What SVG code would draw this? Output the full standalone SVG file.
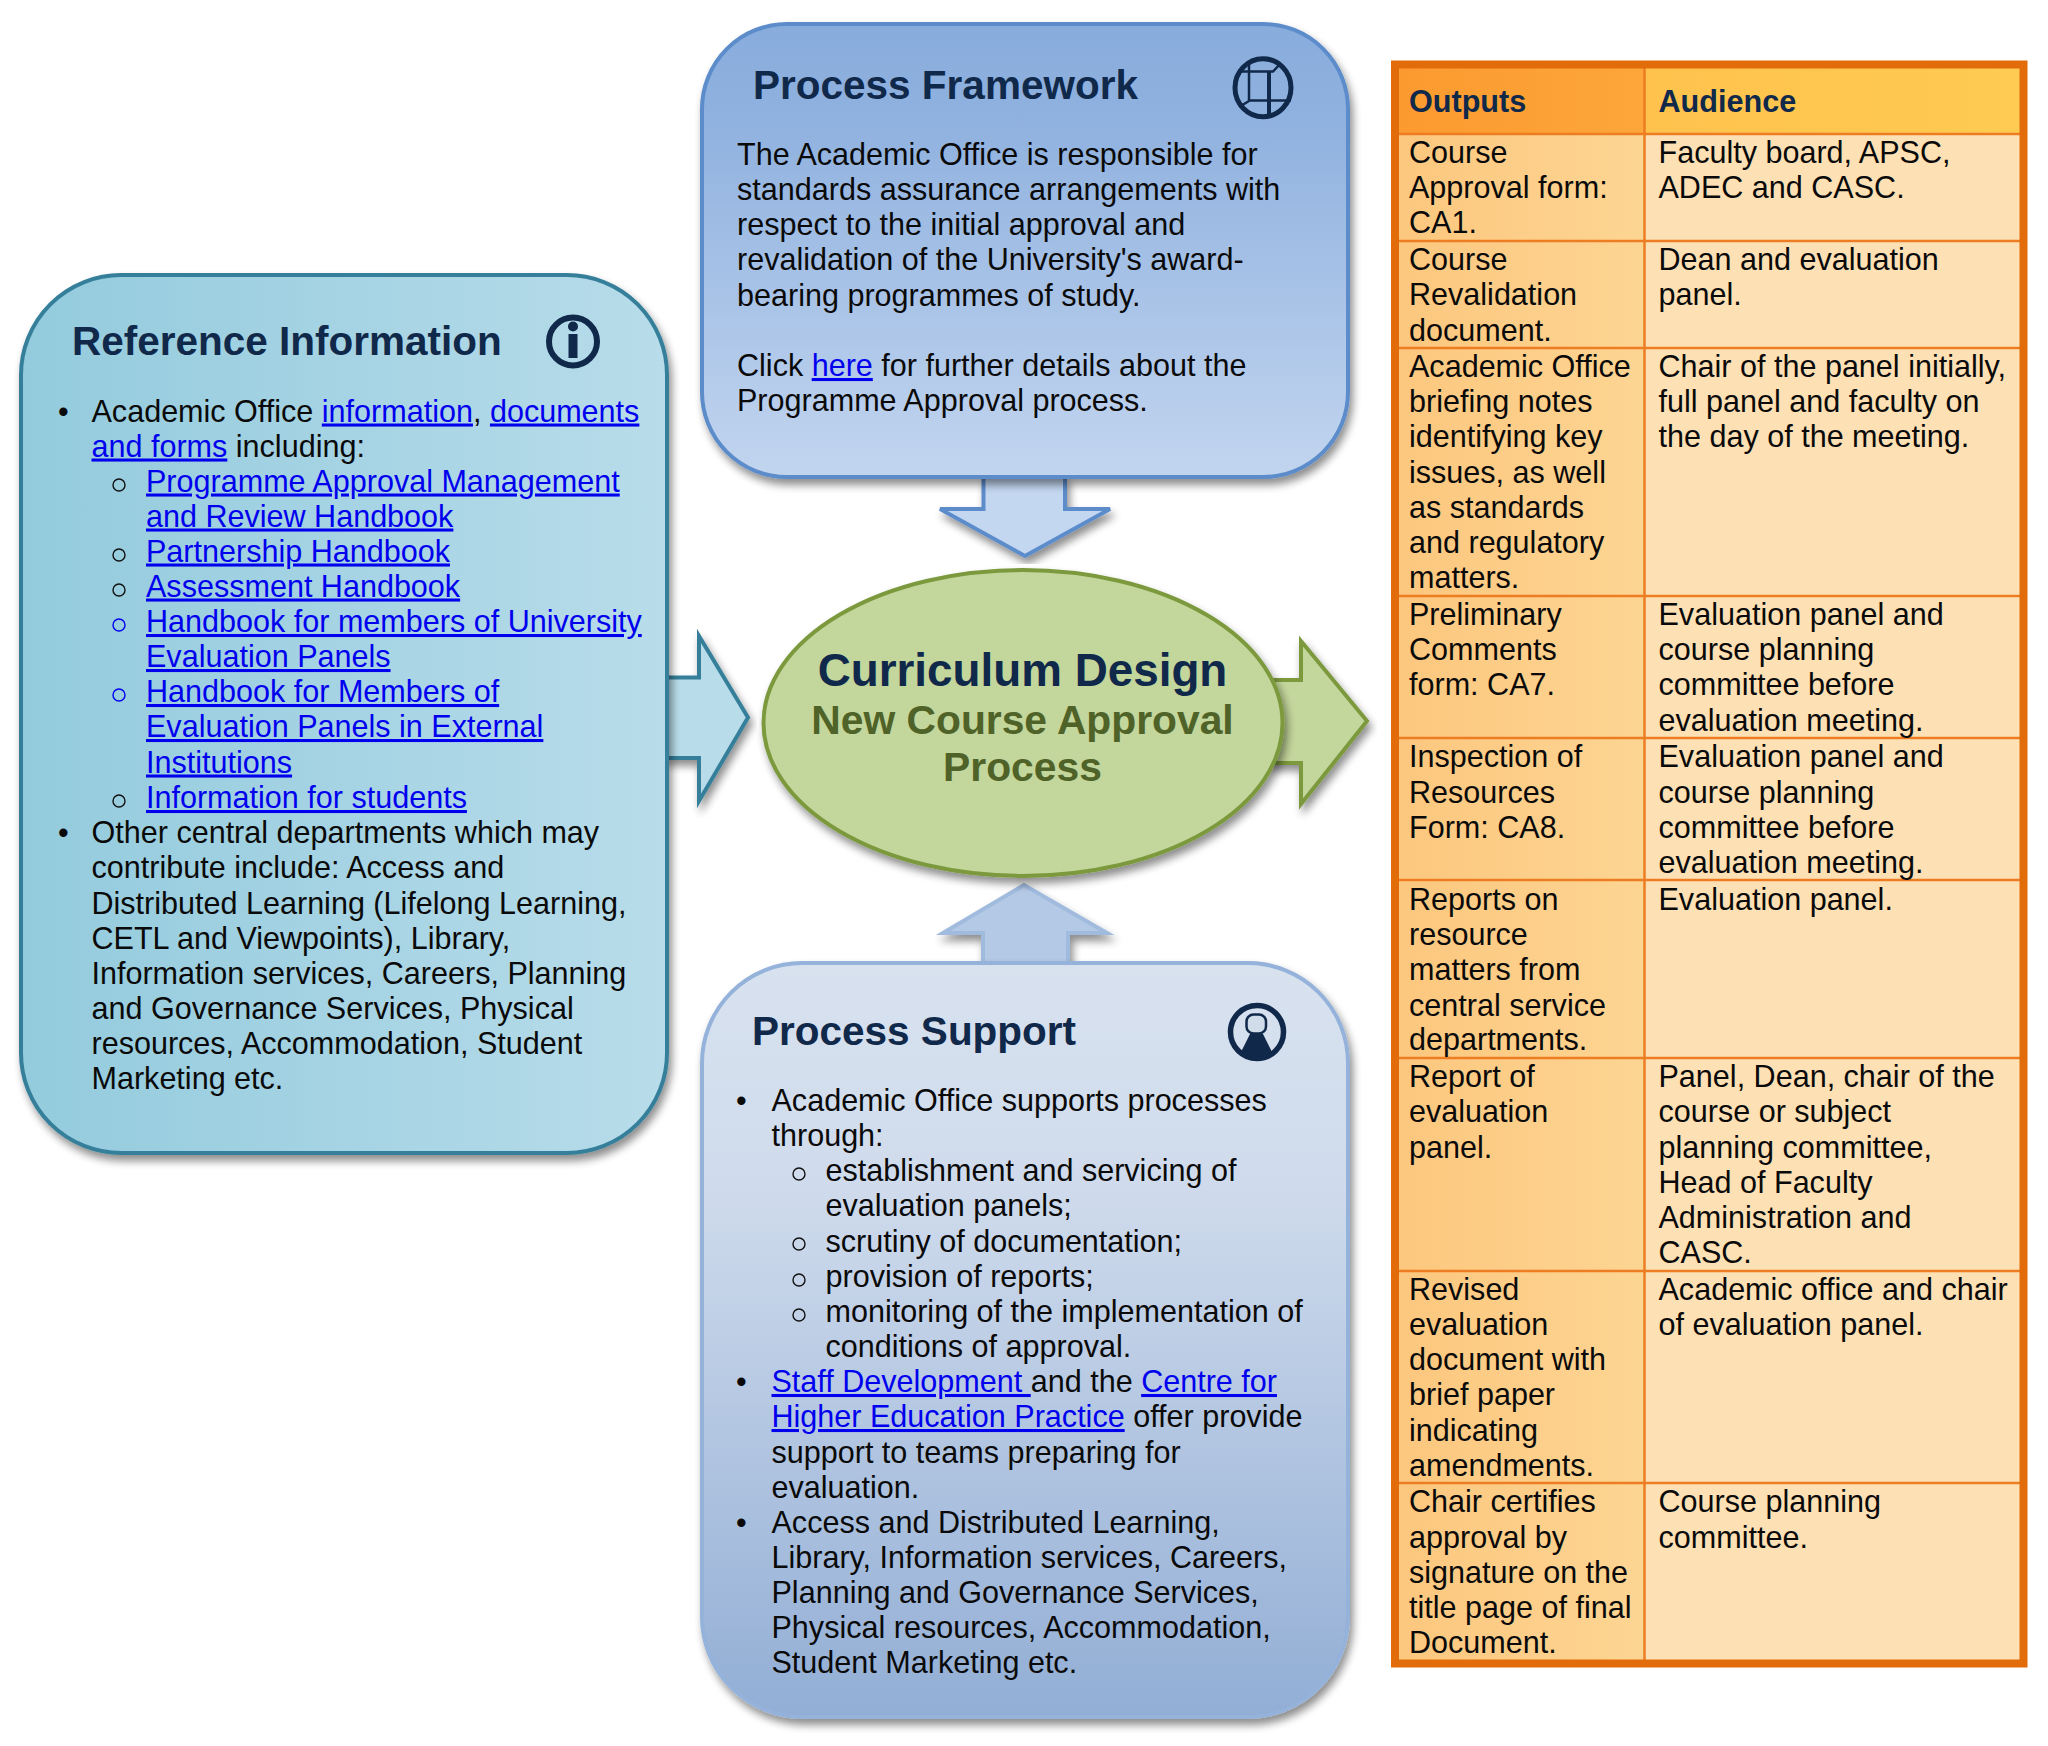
<svg xmlns="http://www.w3.org/2000/svg" width="2048" height="1746" viewBox="0 0 2048 1746">
<style>
text{font-family:"Liberation Sans",Arial,sans-serif;font-size:30.55px;fill:#0a0a0a}
.t{font-weight:700;font-size:40.5px;fill:#10294a}
.l{fill:#0000ee;text-decoration:underline}
.h{font-weight:700;font-size:30.6px;fill:#10294a}
.sh{filter:url(#ds)}
.ic{fill:none;stroke:#10294a}
.ln{stroke:#ed7d22;stroke-width:2.5}
.b{fill:none;stroke:#111;stroke-width:1.4}
</style>
<defs>
<filter id="ds" x="-10%" y="-10%" width="120%" height="120%"><feGaussianBlur in="SourceAlpha" stdDeviation="4"/><feOffset dx="3" dy="6"/><feComponentTransfer><feFuncA type="linear" slope="0.45"/></feComponentTransfer><feMerge><feMergeNode/><feMergeNode in="SourceGraphic"/></feMerge></filter>
<linearGradient id="gl" x1="0" x2="1" y1="0" y2="0"><stop offset="0" stop-color="#93cbdd"/><stop offset="1" stop-color="#b8dcea"/></linearGradient>
<linearGradient id="gf" x1="0" x2="0" y1="0" y2="1"><stop offset="0" stop-color="#88acdc"/><stop offset="0.2" stop-color="#8fb1df"/><stop offset="1" stop-color="#c2d5ef"/></linearGradient>
<linearGradient id="gs" x1="0" x2="0" y1="0" y2="1"><stop offset="0" stop-color="#d8e2ef"/><stop offset="0.3" stop-color="#cfdbec"/><stop offset="1" stop-color="#92aed5"/></linearGradient>
<linearGradient id="gth1" x1="0" x2="1" y1="0" y2="0"><stop offset="0" stop-color="#fb9a2f"/><stop offset="1" stop-color="#fda63a"/></linearGradient>
<linearGradient id="gth2" x1="0" x2="1" y1="0" y2="0"><stop offset="0" stop-color="#fec24d"/><stop offset="1" stop-color="#ffcb52"/></linearGradient>
<linearGradient id="gt1" x1="0" x2="1" y1="0" y2="0"><stop offset="0" stop-color="#fcc77e"/><stop offset="1" stop-color="#fdd593"/></linearGradient>
</defs>

<g id="connectors">
<path class="sh" d="M983.500 477V509H940L1025 556L1110 509H1065V477Z" fill="#c3d7f1" stroke="#5d8ccb" stroke-width="4"/>
<path class="sh" d="M665 677.500H699V636L748 717.500L699 801V758H665Z" fill="#b8dcea" stroke="#357f9a" stroke-width="4"/>
<path class="sh" d="M1270 680H1301V641L1367 721L1301 804V763H1270Z" fill="#c3d69b" stroke="#7b9a3e" stroke-width="4"/>
<path class="sh" d="M983 964V933H943L1024 885L1107 933H1068V964Z" fill="#b4c9e5" stroke="#a0bbde" stroke-width="4"/>
</g>

<g id="reference-information">
<rect class="sh" x="21" y="275" width="646" height="878" rx="100" ry="100" fill="url(#gl)" stroke="#357f9a" stroke-width="4"/>
<text class="t" x="72" y="355">Reference Information</text>
<ellipse class="ic" cx="573" cy="341.500" rx="24" ry="24" stroke-width="6"/>
<circle cx="573" cy="326.500" r="5" fill="#10294a"/><rect x="568.500" y="334" width="9" height="24" fill="#10294a"/>
<text x="58" y="421.500">•</text>
<text x="91.500" y="421.500">Academic Office <tspan class="l">information</tspan>, <tspan class="l">documents</tspan></text>
<text x="91.500" y="456.500"><tspan class="l">and forms</tspan> including:</text>
<text class="l" x="146" y="491.500">Programme Approval Management</text>
<text class="l" x="146" y="526.500">and Review Handbook</text>
<text class="l" x="146" y="561.500">Partnership Handbook</text>
<text class="l" x="146" y="596.500">Assessment Handbook</text>
<text class="l" x="146" y="632">Handbook for members of University</text>
<text class="l" x="146" y="667">Evaluation Panels</text>
<text class="l" x="146" y="702">Handbook for Members of</text>
<text class="l" x="146" y="737">Evaluation Panels in External</text>
<text class="l" x="146" y="772.500">Institutions</text>
<text class="l" x="146" y="808">Information for students</text>
<circle class="b" cx="119" cy="485" r="6"/><circle class="b" cx="119" cy="555" r="6"/><circle class="b" cx="119" cy="590" r="6"/><circle class="b" cx="119" cy="625" r="6" style="stroke:#0000ee"/><circle class="b" cx="119" cy="695" r="6" style="stroke:#0000ee"/><circle class="b" cx="119" cy="801" r="6"/>
<text x="58" y="843">•</text>
<text x="91.500" y="843">Other central departments which may</text>
<text x="91.500" y="878">contribute include: Access and</text>
<text x="91.500" y="913.500">Distributed Learning (Lifelong Learning,</text>
<text x="91.500" y="948.500">CETL and Viewpoints), Library,</text>
<text x="91.500" y="983.500">Information services, Careers, Planning</text>
<text x="91.500" y="1018.500">and Governance Services, Physical</text>
<text x="91.500" y="1053.500">resources, Accommodation, Student</text>
<text x="91.500" y="1088.500">Marketing etc.</text>
</g>

<g id="process-framework">
<rect class="sh" x="702" y="24" width="646" height="453" rx="85" ry="85" fill="url(#gf)" stroke="#5d8ccb" stroke-width="4"/>
<text class="t" x="753" y="99">Process Framework</text>
<ellipse class="ic" cx="1263" cy="87.700" rx="28" ry="29" stroke-width="5"/>
<path class="ic" d="M1239 71.500H1273L1281 63M1249 62V101M1249 100.500H1291M1249 101L1239 107" stroke-width="2.500"/>
<path class="ic" d="M1269 71V115" stroke-width="4"/>
<text x="737" y="165">The Academic Office is responsible for</text>
<text x="737" y="200">standards assurance arrangements with</text>
<text x="737" y="235">respect to the initial approval and</text>
<text x="737" y="270">revalidation of the University's award-</text>
<text x="737" y="306">bearing programmes of study.</text>
<text x="737" y="376">Click <tspan class="l">here</tspan> for further details about the</text>
<text x="737" y="411">Programme Approval process.</text>
</g>

<g id="process-support">
<rect class="sh" x="702" y="963" width="646" height="754" rx="100" ry="100" fill="url(#gs)" stroke="#94b2da" stroke-width="4"/>
<text class="t" x="752" y="1045">Process Support</text>
<ellipse class="ic" cx="1257" cy="1032" rx="26.500" ry="26.500" stroke-width="5.500"/>
<path d="M1250 1034H1263L1272 1052A26 26 0 0 1 1241 1052Z" fill="#10294a"/>
<rect x="1246.500" y="1014.500" width="19.500" height="19" rx="7" fill="#d0dcea" stroke="#10294a" stroke-width="2.500"/>
<text x="736" y="1111">•</text><text x="771.500" y="1111">Academic Office supports processes</text>
<text x="771.500" y="1146">through:</text>
<text x="825.500" y="1181">establishment and servicing of</text>
<text x="825.500" y="1216">evaluation panels;</text>
<text x="825.500" y="1252">scrutiny of documentation;</text>
<text x="825.500" y="1287">provision of reports;</text>
<text x="825.500" y="1322">monitoring of the implementation of</text>
<text x="825.500" y="1357">conditions of approval.</text>
<circle class="b" cx="799" cy="1174" r="6"/><circle class="b" cx="799" cy="1244" r="6"/><circle class="b" cx="799" cy="1280" r="6"/><circle class="b" cx="799" cy="1315" r="6"/>
<text x="736" y="1392">•</text><text x="771.500" y="1392"><tspan class="l">Staff Development </tspan>and the <tspan class="l">Centre for</tspan></text>
<text x="771.500" y="1427"><tspan class="l">Higher Education Practice</tspan> offer provide</text>
<text x="771.500" y="1463">support to teams preparing for</text>
<text x="771.500" y="1498">evaluation.</text>
<text x="736" y="1533">•</text><text x="771.500" y="1533">Access and Distributed Learning,</text>
<text x="771.500" y="1567.500">Library, Information services, Careers,</text>
<text x="771.500" y="1603">Planning and Governance Services,</text>
<text x="771.500" y="1638">Physical resources, Accommodation,</text>
<text x="771.500" y="1673">Student Marketing etc.</text>
</g>

<g id="curriculum-design">
<ellipse class="sh" cx="1023" cy="723" rx="259.500" ry="153" fill="#c3d69b" stroke="#7b9a3e" stroke-width="4"/>
<text x="1022.500" y="686" text-anchor="middle" style="font-weight:700;font-size:45.800px;fill:#10294a">Curriculum Design</text>
<text x="1022.500" y="734" text-anchor="middle" style="font-weight:700;font-size:40.800px;fill:#4f6228">New Course Approval</text>
<text x="1022.500" y="781" text-anchor="middle" style="font-weight:700;font-size:40.800px;fill:#4f6228">Process</text>
</g>

<g id="outputs-table">
<rect x="1399" y="68" width="245" height="1594" fill="url(#gt1)"/>
<rect x="1644" y="68" width="376" height="1594" fill="#fde0b4"/>
<rect x="1399" y="68" width="245" height="66" fill="url(#gth1)"/>
<rect x="1644" y="68" width="376" height="66" fill="url(#gth2)"/>
<g class="ln"><line x1="1644.500" y1="68" x2="1644.500" y2="1662"/><line x1="1399" y1="134" x2="2020" y2="134"/><line x1="1399" y1="241" x2="2020" y2="241"/><line x1="1399" y1="348" x2="2020" y2="348"/><line x1="1399" y1="596" x2="2020" y2="596"/><line x1="1399" y1="738" x2="2020" y2="738"/><line x1="1399" y1="880" x2="2020" y2="880"/><line x1="1399" y1="1058" x2="2020" y2="1058"/><line x1="1399" y1="1271" x2="2020" y2="1271"/><line x1="1399" y1="1483" x2="2020" y2="1483"/></g>
<rect x="1395" y="64.500" width="628.500" height="1599" fill="none" stroke="#e36c0a" stroke-width="8"/>
<text class="h" x="1409" y="112">Outputs</text><text class="h" x="1658.500" y="112">Audience</text>
<text x="1409" y="163">Course</text><text x="1409" y="198">Approval form:</text><text x="1409" y="233">CA1.</text>
<text x="1658.500" y="163">Faculty board, APSC,</text><text x="1658.500" y="198">ADEC and CASC.</text>
<text x="1409" y="270">Course</text><text x="1409" y="305">Revalidation</text><text x="1409" y="341">document.</text>
<text x="1658.500" y="270">Dean and evaluation</text><text x="1658.500" y="305">panel.</text>
<text x="1409" y="377">Academic Office</text><text x="1409" y="412">briefing notes</text><text x="1409" y="447">identifying key</text><text x="1409" y="483">issues, as well</text><text x="1409" y="518">as standards</text><text x="1409" y="553">and regulatory</text><text x="1409" y="588">matters.</text>
<text x="1658.500" y="377">Chair of the panel initially,</text><text x="1658.500" y="412">full panel and faculty on</text><text x="1658.500" y="447">the day of the meeting.</text>
<text x="1409" y="625">Preliminary</text><text x="1409" y="660">Comments</text><text x="1409" y="695">form: CA7.</text>
<text x="1658.500" y="625">Evaluation panel and</text><text x="1658.500" y="660">course planning</text><text x="1658.500" y="695">committee before</text><text x="1658.500" y="731">evaluation meeting.</text>
<text x="1409" y="767">Inspection of</text><text x="1409" y="803">Resources</text><text x="1409" y="838">Form: CA8.</text>
<text x="1658.500" y="767">Evaluation panel and</text><text x="1658.500" y="803">course planning</text><text x="1658.500" y="838">committee before</text><text x="1658.500" y="873">evaluation meeting.</text>
<text x="1409" y="910">Reports on</text><text x="1409" y="945">resource</text><text x="1409" y="980">matters from</text><text x="1409" y="1015.500">central service</text><text x="1409" y="1050">departments.</text>
<text x="1658.500" y="910">Evaluation panel.</text>
<text x="1409" y="1087">Report of</text><text x="1409" y="1122">evaluation</text><text x="1409" y="1157.500">panel.</text>
<text x="1658.500" y="1087">Panel, Dean, chair of the</text><text x="1658.500" y="1122">course or subject</text><text x="1658.500" y="1157.500">planning committee,</text><text x="1658.500" y="1193">Head of Faculty</text><text x="1658.500" y="1228">Administration and</text><text x="1658.500" y="1263">CASC.</text>
<text x="1409" y="1300">Revised</text><text x="1409" y="1335">evaluation</text><text x="1409" y="1370">document with</text><text x="1409" y="1405">brief paper</text><text x="1409" y="1441">indicating</text><text x="1409" y="1476">amendments.</text>
<text x="1658.500" y="1300">Academic office and chair</text><text x="1658.500" y="1335">of evaluation panel.</text>
<text x="1409" y="1512">Chair certifies</text><text x="1409" y="1547.500">approval by</text><text x="1409" y="1583">signature on the</text><text x="1409" y="1618">title page of final</text><text x="1409" y="1653">Document.</text>
<text x="1658.500" y="1512">Course planning</text><text x="1658.500" y="1547.500">committee.</text>
</g>
</svg>
